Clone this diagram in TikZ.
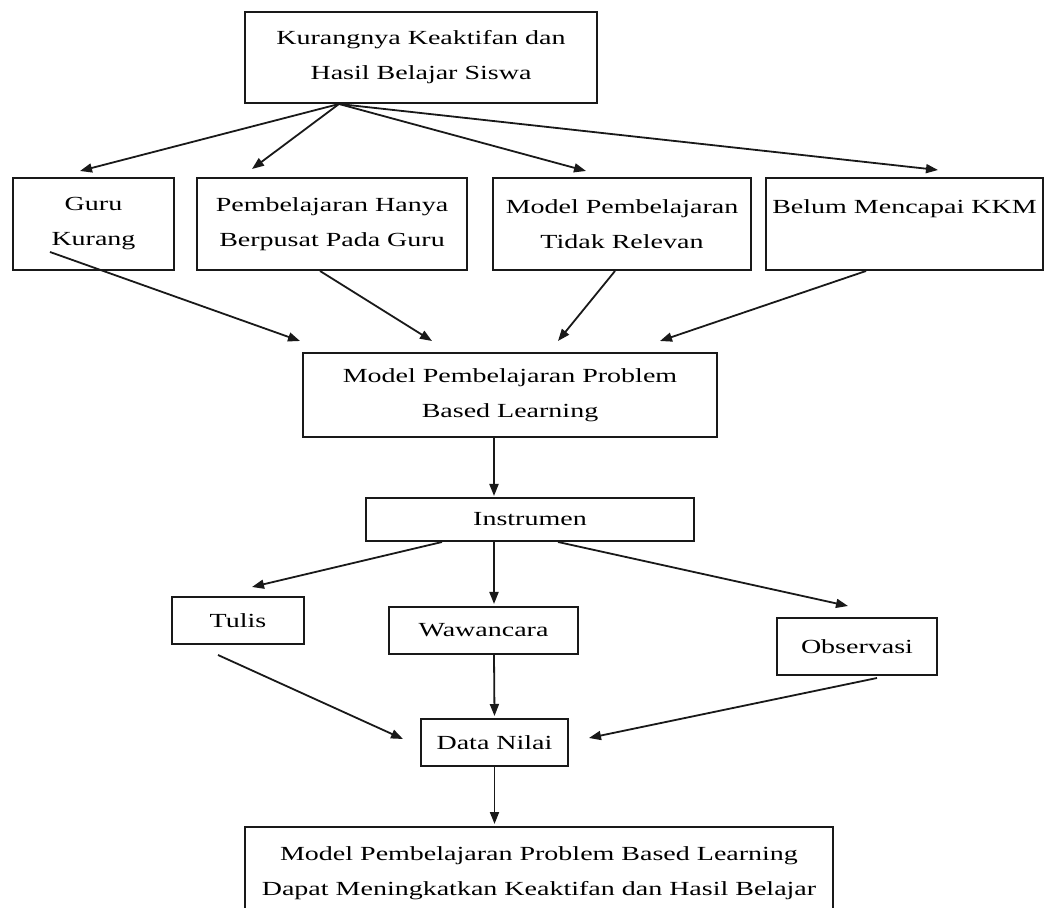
\documentclass[tikz,border=0pt]{standalone}
\usepackage{fontspec}
\setmainfont{Liberation Serif}[FakeStretch=1.4]
\usetikzlibrary{arrows.meta, calc}
\tikzset{
    flowbox/.style={rectangle, draw=black!90, line width=1pt, fill=white,
                    align=center, inner sep=0pt, font=\fontsize{10}{17.5}\selectfont},
    arrow/.style={-{Triangle[length=6pt, width=4.5pt]}, line width=0.9pt, draw=black!90},
}

\begin{document}
\begin{tikzpicture}[x=0.5pt, y=-0.5pt]
    \useasboundingbox (0,0) rectangle (1050,908);
    % masalah
    \node[flowbox, minimum width=176pt, minimum height=45.5pt] (masalah) at (421,57.5)
        {Kurangnya Keaktifan dan\\Hasil Belajar Siswa};
    % penyebab
    \node[flowbox, minimum width=80.5pt, minimum height=46pt] (guru) at (93.5,224)
        {Guru\\Kurang};
    \node[flowbox, minimum width=135pt, minimum height=46pt] (berpusat) at (332,224)
        {Pembelajaran Hanya\\Berpusat Pada Guru};
    \node[flowbox, minimum width=129pt, minimum height=46pt] (relevan) at (622,224)
        {Model Pembelajaran\\Tidak Relevan};
    \node[flowbox, minimum width=138.5pt, minimum height=46pt] (kkm) at (904.5,224)
        {Belum Mencapai KKM\\\mbox{}};
    % solusi
    \node[flowbox, minimum width=207pt, minimum height=42pt] (pbl) at (510,395)
        {Model Pembelajaran Problem\\Based Learning};
    \node[flowbox, minimum width=164pt, minimum height=21.5pt] (instrumen) at (530,519.5)
        {Instrumen};
    \node[flowbox, minimum width=66pt, minimum height=23.5pt] (tulis) at (238,620.5)
        {Tulis};
    \node[flowbox, minimum width=94.5pt, minimum height=23.5pt] (wawancara) at (483.5,630.5)
        {Wawancara};
    \node[flowbox, minimum width=80pt, minimum height=28.5pt] (observasi) at (857,646.5)
        {Observasi};
    \node[flowbox, minimum width=73.5pt, minimum height=23.5pt] (datanilai) at (494.5,742.5)
        {Data Nilai};
    \node[flowbox, minimum width=294pt, minimum height=46.5pt] (hasil) at (539,873.5)
        {Model Pembelajaran Problem Based Learning\\Dapat Meningkatkan Keaktifan dan Hasil Belajar};

    \coordinate (masalahkaki) at ($(masalah.south)+(-82,0)$);
    \draw[arrow] (masalahkaki) -- ($(guru.north)+(-13.5,-6)$);
    \draw[arrow] (masalahkaki) -- ($(berpusat.north)+(-80,-8)$);
    \draw[arrow] (masalahkaki) -- ($(relevan.north)+(-36,-6)$);
    \draw[arrow] (masalahkaki) -- ($(kkm.north)+(33.5,-7)$);

    \draw[arrow] ($(guru.center)+(-43.5,28)$) -- ($(pbl.north)+(-210,-11)$);
    \draw[arrow] ($(berpusat.south)+(-12,0)$) -- ($(pbl.north)+(-78,-11)$);
    \draw[arrow] ($(relevan.south)+(-7,0)$) -- ($(pbl.north)+(48,-11)$);
    \draw[arrow] ($(kkm.south)+(-38.5,0)$) -- ($(pbl.north)+(150,-11)$);

    \draw[arrow] ($(pbl.south)+(-16,0)$) -- ($(instrumen.north)+(-36,-1)$);
    \draw[arrow] ($(instrumen.south)+(-88,0)$) -- ($(tulis.north)+(14,-9)$);
    \draw[arrow] ($(instrumen.south)+(-36,0)$) -- ($(wawancara.north)+(10.5,-2)$);
    \draw[arrow] ($(instrumen.south)+(28,0)$) -- ($(observasi.north)+(-9,-11)$);

    \draw[arrow] ($(tulis.south)+(-20,10)$) -- ($(datanilai.west)+(-17,-3.5)$);
    \draw[arrow] ($(wawancara.south)+(10.5,0)$) -- ($(datanilai.north)+(0,-2)$);
    \draw[arrow] ($(observasi.south)+(20,2)$) -- ($(datanilai.east)+(20,-4.5)$);
    \draw[arrow] (datanilai.south) -- ($(hasil.north)+(-44.5,-2)$);
\end{tikzpicture}
\end{document}
